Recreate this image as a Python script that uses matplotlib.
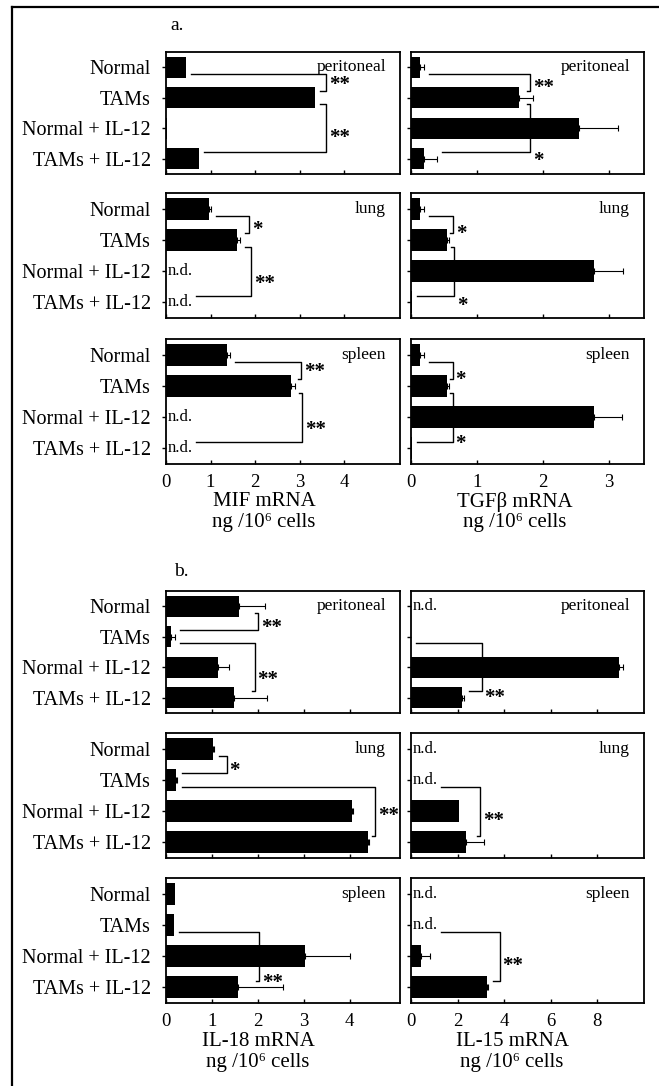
import numpy as np
import matplotlib.pyplot as plt
from matplotlib.lines import Line2D

plt.rcParams['font.family'] = ['Liberation Serif', 'DejaVu Serif']

W, H = 659, 1086

groups = ['Normal', 'TAMs', 'Normal + IL-12', 'TAMs + IL-12']
tissues = ['peritoneal', 'lung', 'spleen']
nd = np.nan   # not detected

# a. MIF mRNA (ng / 10^6 cells)
mif_vals = [[0.45, 3.35, 0.02, 0.75],
            [0.97, 1.60, nd, nd],
            [1.37, 2.80, nd, nd]]
mif_err = [[0.0, 0.0, 0.0, 0.0],
           [0.05, 0.07, 0.0, 0.0],
           [0.07, 0.10, 0.0, 0.0]]
# (row a, row b, bracket x, stars, star row)
mif_sig = [[(0, 1, 3.6, '**', 0.45), (1, 3, 3.6, '**', 2.2)],
           [(0, 1, 1.87, '*', 0.55), (1, 3, 1.9, '**', 2.3)],
           [(0, 1, 3.03, '**', 0.45), (1, 3, 3.05, '**', 2.3)]]

# a. TGFbeta mRNA
tgf_vals = [[0.14, 1.63, 2.54, 0.20],
            [0.14, 0.55, 2.77, 0.02],
            [0.14, 0.55, 2.77, 0.02]]
tgf_err = [[0.05, 0.22, 0.60, 0.20],
           [0.05, 0.03, 0.44, 0.0],
           [0.05, 0.03, 0.42, 0.0]]
tgf_sig = [[(0, 1, 1.8, '**', 0.55), (1, 3, 1.81, '*', 2.95)],
           [(0, 1, 0.64, '*', 0.7), (1, 3, 0.65, '*', 3.0)],
           [(0, 1, 0.63, '*', 0.7), (1, 3, 0.63, '*', 2.75)]]

# b. IL-18 mRNA
il18_vals = [[1.60, 0.10, 1.13, 1.48],
             [1.02, 0.22, 4.05, 4.40],
             [0.20, 0.18, 3.03, 1.56]]
il18_err = [[0.55, 0.10, 0.25, 0.73],
            [0.02, 0.02, 0.02, 0.02],
            [0.0, 0.0, 0.97, 0.98]]
il18_sig = [[(0, 1, 2.0, '**', 0.6), (1, 3, 1.93, '**', 2.3)],
            [(0, 1, 1.32, '*', 0.6), (1, 3, 4.55, '**', 2.05)],
            [(1, 3, 2.03, '**', 2.75)]]

# b. IL-15 mRNA
il15_vals = [[nd, 0.0, 8.93, 2.18],
             [nd, nd, 2.05, 2.35],
             [nd, nd, 0.43, 3.25]]
il15_err = [[0.0, 0.0, 0.15, 0.10],
            [0.0, 0.0, 0.0, 0.78],
            [0.0, 0.0, 0.38, 0.05]]
il15_sig = [[(1, 3, 3.03, '**', 2.9)],
            [(1, 3, 2.95, '**', 2.2)],
            [(1, 3, 3.8, '**', 2.2)]]

# layout in pixels
col_x = [(166, 400), (411, 644)]
rows_a = [(52, 174), (193, 318), (339, 464)]
rows_b = [(591, 713), (733, 858), (878, 1003)]


def add_ax(fig, x0, x1, y0, y1):
    return fig.add_axes([x0 / W, 1 - y1 / H, (x1 - x0) / W, (y1 - y0) / H])


def draw_panel(ax, vals, errs, sigs, xmax, ticks, tissue, show_cat, show_x, wpx):
    vals = np.array(vals, dtype=float)
    errs = np.array(errs, dtype=float)
    y = np.arange(len(groups))
    ppu = wpx / xmax
    ok = ~np.isnan(vals)
    ax.barh(y[ok], vals[ok], height=0.7, color='black')
    for i in y:
        if ok[i] and errs[i] > 0:
            ax.errorbar(vals[i], i, xerr=[[0], [errs[i]]], fmt='none',
                        ecolor='black', elinewidth=0.8, capsize=2.5, capthick=0.8)
        if not ok[i]:
            ax.text(2 / ppu, i, 'n.d.', va='center', ha='left', fontsize=12)
    for ra, rb, xv, lab, ly in sigs:
        ends = []
        for r in (ra, rb):
            if ok[r]:
                e = vals[r] + errs[r] + 5 / ppu
            else:
                e = 30 / ppu
            ends.append(min(e, xv - 3 / ppu))
        ya, yb = ra + 0.22, rb - 0.22
        ax.plot([ends[0], xv, xv, ends[1]], [ya, ya, yb, yb], color='black', lw=1.0)
        ax.text(xv + 3 / ppu, ly + 0.12, lab, va='center', ha='left',
                fontsize=15, fontweight='bold')
    ax.text(xmax - 14 / ppu, 0, tissue, ha='right', va='center', fontsize=12.5)
    ax.set_xlim(0, xmax)
    ax.set_ylim(3.5, -0.5)
    ax.set_yticks(y)
    if show_cat:
        ax.set_yticklabels(groups, fontsize=14.5)
    else:
        ax.set_yticklabels([])
    ax.tick_params(axis='y', direction='out', length=3, width=1, pad=8)
    ax.set_xticks(ticks)
    ax.tick_params(axis='x', direction='in', length=3, width=1, pad=7)
    if show_x:
        ax.set_xticklabels([str(t) for t in ticks], fontsize=13.5)
    else:
        ax.set_xticklabels([])
    for s in ax.spines.values():
        s.set_linewidth(1.3)


fig = plt.figure(figsize=(W / 100, H / 100), dpi=100)

parts = [
    (rows_a, [(mif_vals, mif_err, mif_sig, 5.25, [0, 1, 2, 3, 4]),
              (tgf_vals, tgf_err, tgf_sig, 3.53, [0, 1, 2, 3])]),
    (rows_b, [(il18_vals, il18_err, il18_sig, 5.1, [0, 1, 2, 3, 4]),
              (il15_vals, il15_err, il15_sig, 10.0, [0, 2, 4, 6, 8])]),
]

for rows, cols in parts:
    for c, (vals, errs, sigs, xmax, ticks) in enumerate(cols):
        x0, x1 = col_x[c]
        for r, (y0, y1) in enumerate(rows):
            ax = add_ax(fig, x0, x1, y0, y1)
            draw_panel(ax, vals[r], errs[r], sigs[r], xmax, ticks, tissues[r],
                       c == 0, r == 2, x1 - x0)

# axis titles
xlabels = [('MIF mRNA', 264, 502), ('TGF\u03b2 mRNA', 515, 502),
           ('IL-18 mRNA', 258, 1042), ('IL-15 mRNA', 512, 1042)]
for txt, px, py in xlabels:
    fig.text(px / W, 1 - py / H, txt, ha='center', va='center', fontsize=15)
    fig.text(px / W, 1 - (py + 21) / H, 'ng /10\u2076 cells', ha='center',
             va='center', fontsize=15)

fig.text(177 / W, 1 - 25 / H, 'a.', ha='center', va='center', fontsize=14)
fig.text(181 / W, 1 - 572 / H, 'b.', ha='center', va='center', fontsize=14)

# outer frame (left and top only)
fig.add_artist(Line2D([12 / W, 12 / W], [0, 1 - 7 / H], transform=fig.transFigure,
                      color='black', lw=1.6))
fig.add_artist(Line2D([12 / W, 1], [1 - 7 / H, 1 - 7 / H], transform=fig.transFigure,
                      color='black', lw=1.6))

fig.savefig('out.png', dpi=100)
